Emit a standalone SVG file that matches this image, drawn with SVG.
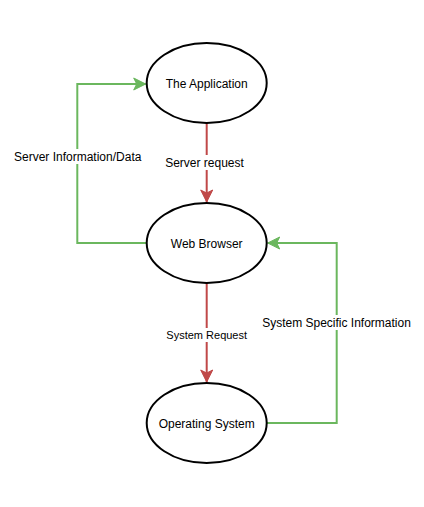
<svg xmlns="http://www.w3.org/2000/svg" width="424" height="507" viewBox="0 0 424 507">
<style>
.node{fill:#ffffff;stroke:#000000;stroke-width:2}
.lbl{font-family:"Liberation Sans",Arial,sans-serif;font-size:12px;fill:#000000;text-anchor:middle;dominant-baseline:central}
.red{fill:none;stroke:#c04848;stroke-width:2}
.green{fill:none;stroke:#6bb75e;stroke-width:2}
.bg{fill:#ffffff}
</style>
<defs>
<marker id="ar" markerUnits="userSpaceOnUse" markerWidth="16" markerHeight="16" refX="0" refY="0" viewBox="-14 -8 16 16" orient="auto" overflow="visible">
<path d="M0,0 L-12,-6 L-9,0 L-12,6 Z" fill="#c04848" stroke="#c04848" stroke-width="1"/>
</marker>
<marker id="ag" markerUnits="userSpaceOnUse" markerWidth="16" markerHeight="16" refX="0" refY="0" viewBox="-14 -8 16 16" orient="auto" overflow="visible">
<path d="M0,0 L-12,-6 L-9,0 L-12,6 Z" fill="#6bb75e" stroke="#6bb75e" stroke-width="1"/>
</marker>
</defs>
<rect width="424" height="507" fill="#ffffff"/>
<g id="connectors">
<path class="red" d="M206.7,123 L206.7,202" marker-end="url(#ar)"/>
<path class="red" d="M206.7,283 L206.7,382" marker-end="url(#ar)"/>
<path class="green" d="M146.7,243 L77.3,243 L77.3,84 L145.7,84" marker-end="url(#ag)"/>
<path class="green" d="M266.7,423 L336.7,423 L336.7,243 L267.7,243" marker-end="url(#ag)"/>
<rect class="bg" x="12" y="149" width="132" height="15"/>
<text class="lbl" x="77.7" y="157">Server Information/Data</text>
<rect class="bg" x="165" y="155" width="83" height="15"/>
<text class="lbl" x="204.5" y="162.5">Server request</text>
<rect class="bg" x="165" y="328" width="83" height="14"/>
<text class="lbl" x="206.7" y="335" style="font-size:11px">System Request</text>
<rect class="bg" x="262" y="315" width="150" height="15"/>
<text class="lbl" x="336.5" y="323">System Specific Information</text>
</g>
<g id="app">
<ellipse class="node" cx="206.7" cy="83" rx="60" ry="40"/>
<text class="lbl" x="206.7" y="84">The Application</text>
</g>
<g id="browser">
<ellipse class="node" cx="206.7" cy="243" rx="60" ry="40"/>
<text class="lbl" x="206.7" y="244">Web Browser</text>
</g>
<g id="os">
<ellipse class="node" cx="206.7" cy="423" rx="60" ry="40"/>
<text class="lbl" x="206.7" y="424">Operating System</text>
</g>
</svg>
